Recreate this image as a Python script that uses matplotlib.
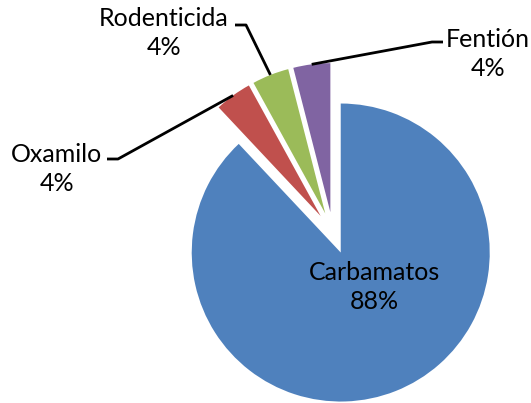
import numpy as np
import matplotlib
matplotlib.use("Agg")
from matplotlib import pyplot as plt

# data
labels = ["Carbamatos", "Oxamilo", "Rodenticida", "Fentión"]
values = [22, 1, 1, 1]
colors = ["#4F81BD", "#C0504D", "#9BBB59", "#8064A2"]

plt.rcParams['font.family'] = ['Lato', 'DejaVu Sans']

fig = plt.figure(figsize=(5.31, 4.03), dpi=100)
ax = fig.add_axes([0, 0, 1, 1])

total = sum(values)
pct = [round(100 * v / total) for v in values]

wedges, _ = ax.pie(values, colors=colors, startangle=90, counterclock=False,
                   center=(333, 170), radius=149, explode=[21] * 4,
                   wedgeprops=dict(linewidth=0), frame=True)
ax.axis("off")
ax.set_xlim(0, 531)
ax.set_ylim(0, 403)

fs = 18
ls = 1.32
# big slice label inside
ax.text(374, 403 - 287, f"{labels[0]}\n{pct[0]}%", ha="center", va="center",
        fontsize=fs, linespacing=ls)

# outside labels: text centre, stub x range, stub y (pixels from top)
outside = {
    1: dict(text=(57, 169), stub=(107, 118), yline=159),
    2: dict(text=(164, 33), stub=(235, 246), yline=25),
    3: dict(text=(488, 54), stub=(443, 432), yline=42),
}
for i, o in outside.items():
    w = wedges[i]
    mid = np.deg2rad((w.theta1 + w.theta2) / 2)
    px = w.center[0] + w.r * np.cos(mid)
    py = w.center[1] + w.r * np.sin(mid)
    x0, x1 = o["stub"]
    yl = 403 - o["yline"]
    ax.plot([x0, x1, px], [yl, yl, py], color="black", lw=2, solid_capstyle="butt")
    tx, ty = o["text"]
    ax.text(tx, 403 - ty, f"{labels[i]}\n{pct[i]}%", ha="center", va="center",
            fontsize=fs, linespacing=ls)

fig.savefig("out.png", dpi=100)
